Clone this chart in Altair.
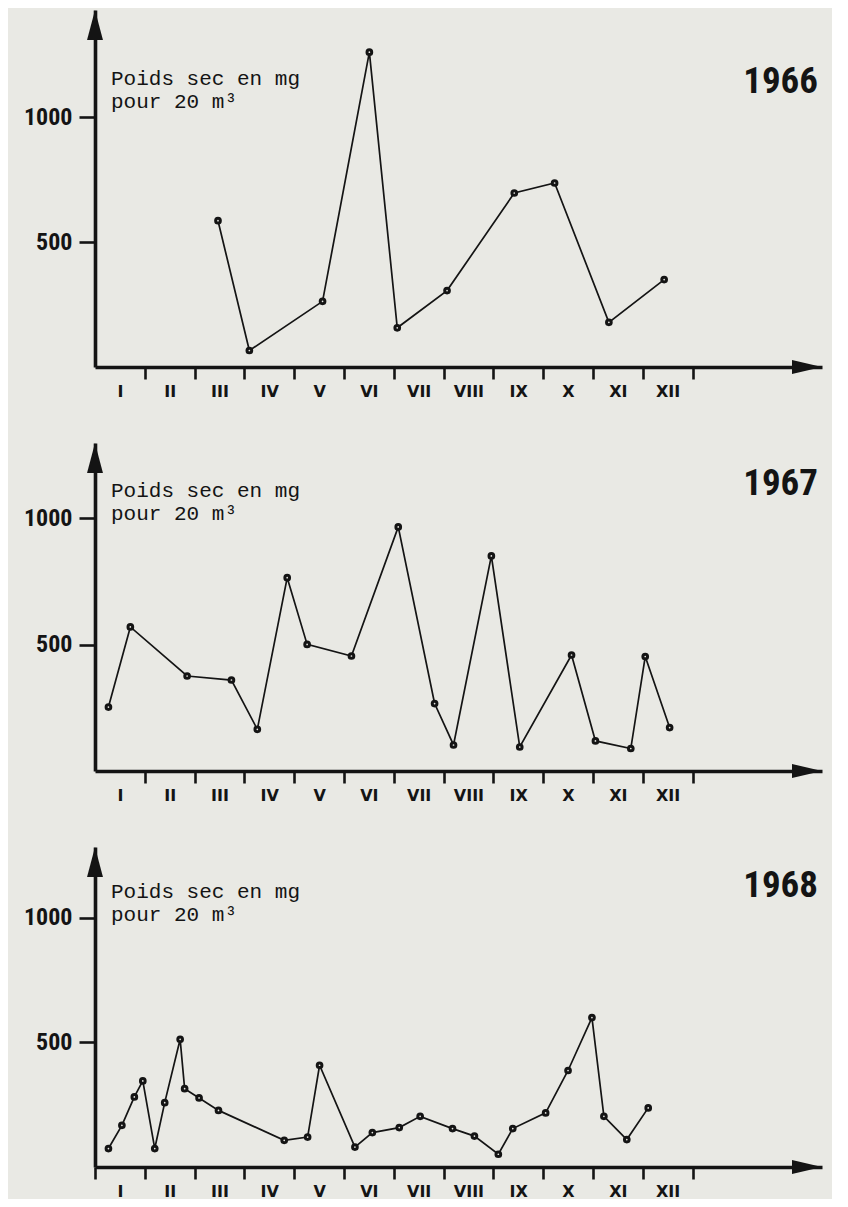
import json
import altair as alt
import pandas as pd

# ---------------- data ----------------
MOIS = ["I", "II", "III", "IV", "V", "VI", "VII", "VIII", "IX", "X", "XI", "XII"]
ANNEES = ["1966", "1967", "1968"]
Y_TICKS = [500, 1000]

# position in months (0 = start of January) and dry weight (mg / 20 m3)
mois_1966 = [2.47, 3.10, 4.57, 5.51, 6.07, 7.07, 8.42, 9.23, 10.32, 11.43]
poids_1966 = [586, 66, 263, 1261, 157, 306, 697, 737, 179, 350]

mois_1967 = [0.27, 0.71, 1.85, 2.74, 3.26, 3.86, 4.26, 5.15, 6.09, 6.82,
             7.20, 7.96, 8.53, 9.57, 10.05, 10.76, 11.05, 11.54]
poids_1967 = [253, 570, 376, 360, 165, 765, 501, 455, 966, 267,
              103, 851, 95, 459, 119, 89, 453, 172]

mois_1968 = [0.27, 0.54, 0.79, 0.96, 1.20, 1.40, 1.71, 1.80, 2.09, 2.48,
             3.80, 4.27, 4.51, 5.22, 5.57, 6.11, 6.53, 7.18, 7.62, 8.10,
             8.39, 9.05, 9.50, 9.98, 10.22, 10.68, 11.11]
poids_1968 = [74, 167, 281, 345, 74, 258, 512, 314, 277, 227,
              107, 120, 408, 80, 138, 158, 203, 154, 124, 51,
              154, 217, 387, 599, 203, 110, 237]

LIGNE_1 = "Poids sec en mg"
LIGNE_2 = "pour 20 m³"

# ---------------- styling ----------------
BG = "#e9e9e4"
INK = "#141414"
NARROW = "Roboto Condensed, Liberation Sans Narrow, DejaVu Sans Condensed, Roboto, sans-serif"
WIDE = "DejaVu Sans, Liberation Sans, sans-serif"
MONO = "Liberation Mono, DejaVu Sans Mono, monospace"

XMAX = 14.6
MONTH_PX = 49.8
W = round(XMAX * MONTH_PX)

label_expr = ("datum.value >= 1 && datum.value <= 12 ? "
              + json.dumps(MOIS) + "[datum.value - 1] : ''")


def panel(year, xs, ys, ymax, h, text_y, title_y, zero_tick):
    df = pd.DataFrame({"mois": xs, "poids": ys})
    one = pd.DataFrame({"k": [0]})

    xaxis = alt.Axis(
        values=list(range(0 if zero_tick else 1, 13)),
        labelExpr=label_expr, labelOffset=-MONTH_PX / 2,
        tickSize=12, tickWidth=2.6, tickColor=INK,
        domainWidth=3.6, domainColor=INK, domainCap="butt",
        labelFont=WIDE, labelFontWeight="bold", labelFontSize=16,
        labelColor=INK, labelPadding=4, labelFlush=False,
        labelOverlap=False, labelBound=False, grid=False, title=None,
    )
    yaxis = alt.Axis(
        values=Y_TICKS, format="d", tickSize=16, tickWidth=2.6, tickColor=INK,
        domainWidth=3.6, domainColor=INK,
        labelFont=NARROW, labelFontWeight="bold", labelFontSize=24,
        labelColor=INK, labelPadding=7, grid=False, title=None,
    )
    xs_ = alt.Scale(domain=[0, XMAX], nice=False, zero=False)
    ys_ = alt.Scale(domain=[0, ymax], nice=False)

    base = alt.Chart(df).encode(
        x=alt.X("mois:Q", scale=xs_, axis=xaxis),
        y=alt.Y("poids:Q", scale=ys_, axis=yaxis),
    )
    line = base.mark_line(color=INK, strokeWidth=1.7)
    pts = base.mark_point(shape="circle", filled=True, fill=BG, stroke=INK,
                          strokeWidth=3, size=22, opacity=1)

    up = alt.Chart(one).mark_point(
        shape="M0,-1L0.53,1L-0.53,1Z", filled=True, color=INK, size=900,
        opacity=1).encode(x=alt.value(0), y=alt.value(15))
    right = alt.Chart(one).mark_point(
        shape="M1,0L-1,0.47L-1,-0.47Z", filled=True, color=INK, size=900,
        opacity=1).encode(x=alt.value(W - 15), y=alt.value(h))

    txt = dict(align="left", baseline="alphabetic", font=MONO, fontSize=21,
               color=INK)
    l1 = alt.Chart(one).mark_text(text=LIGNE_1, **txt).encode(
        x=alt.value(16), y=alt.value(text_y))
    l2 = alt.Chart(one).mark_text(text=LIGNE_2, **txt).encode(
        x=alt.value(16), y=alt.value(text_y + 23))

    title = alt.Chart(one).mark_text(
        align="right", baseline="alphabetic", font=NARROW, fontWeight="bold",
        fontSize=37, color=INK, text=year,
    ).encode(x=alt.value(W - 4), y=alt.value(title_y))

    return alt.layer(line, pts, up, right, l1, l2, title).properties(
        width=W, height=h)


p1 = panel(ANNEES[0], mois_1966, poids_1966, 1430, 357, 75, 83, False)
p2 = panel(ANNEES[1], mois_1967, poids_1967, 1298, 328, 54, 52, False)
p3 = panel(ANNEES[2], mois_1968, poids_1968, 1283, 320, 51, 50, True)

chart = alt.vconcat(p1, p2, p3, spacing=44).configure(
    background=BG,
    padding={"left": 15, "top": 2, "right": 10, "bottom": 0},
).configure_view(stroke=None)

chart.save("out.html", embed_options={"renderer": "svg", "actions": False})
